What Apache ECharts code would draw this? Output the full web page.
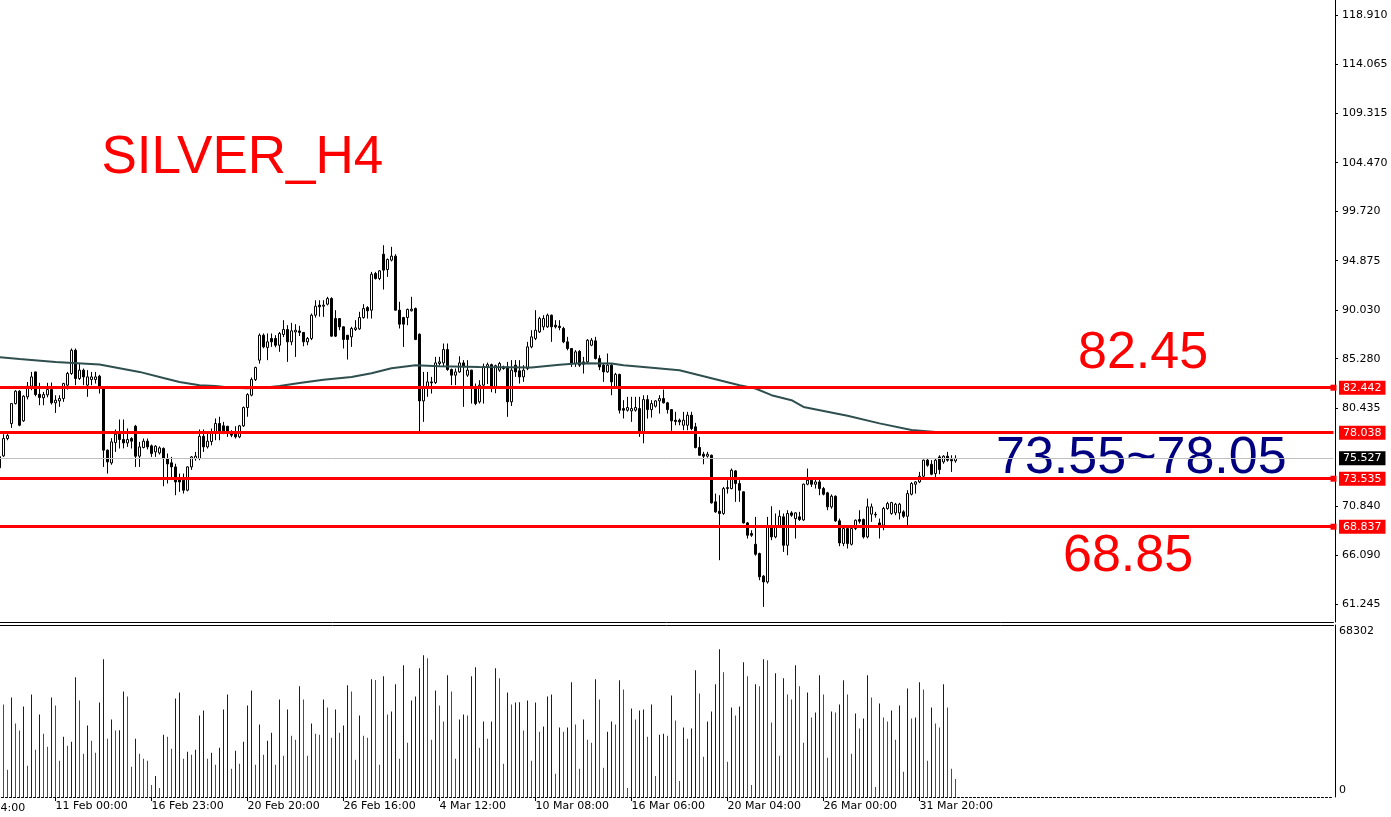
<!DOCTYPE html>
<html>
<head>
<meta charset="utf-8">
<title>SILVER_H4</title>
<script src="https://cdn.jsdelivr.net/npm/echarts@6/dist/echarts.min.js"></script>
<style>
html, body { margin: 0; padding: 0; background: #fff; }
#chart { width: 1391px; height: 817px; }
</style>
</head>
<body>
<div id="chart"></div>
<script>
// H4 bars, oldest first (bar 0 is cut by the left edge)
var opens = [
  74.60, 75.77, 77.47, 78.93, 80.89, 82.10, 79.20, 81.55, 82.59, 83.99,
  81.80, 81.45, 81.74, 82.26, 80.96, 81.15, 81.38, 82.69, 83.83, 86.11,
  83.34, 84.16, 82.69, 83.24, 83.24, 83.57, 82.36, 76.33, 75.08, 77.07,
  77.89, 77.37, 77.04, 77.47, 78.67, 75.74, 76.59, 77.21, 76.75, 76.16,
  76.06, 76.50, 75.51, 75.09, 74.69, 73.40, 73.39, 72.41, 74.69, 75.50,
  75.51, 77.69, 76.65, 77.17, 78.02, 78.94, 78.71, 78.67, 77.96, 77.89,
  77.63, 78.71, 80.50, 81.71, 83.24, 85.14, 87.58, 86.38, 87.26, 87.26,
  86.60, 87.65, 88.14, 86.93, 87.90, 88.00, 87.85, 86.93, 87.26, 89.54,
  90.52, 90.42, 90.62, 91.17, 89.21, 89.21, 88.40, 87.58, 87.42, 88.14,
  88.20, 89.31, 90.29, 90.03, 93.62, 93.13, 95.51, 94.01, 94.93, 95.32,
  90.03, 89.31, 89.31, 89.97, 90.19, 87.68, 81.15, 82.53, 83.01, 82.95,
  84.81, 84.87, 86.18, 84.22, 83.67, 83.99, 84.87, 83.67, 84.16, 82.53,
  81.06, 82.69, 84.50, 84.70, 82.50, 84.16, 84.48, 84.48, 81.06, 84.65,
  84.10, 83.50, 84.32, 86.44, 87.26, 87.91, 88.40, 88.40, 89.54, 88.56,
  88.46, 88.24, 86.93, 86.28, 84.81, 86.00, 84.97, 84.97, 86.60, 87.03,
  85.30, 84.65, 83.99, 84.65, 82.53, 83.75, 80.40, 80.24, 80.17, 80.24,
  80.40, 78.00, 81.28, 80.30, 80.63, 81.15, 81.38, 80.96, 80.30, 79.26,
  79.26, 78.77, 78.77, 79.75, 78.61, 76.59, 75.93, 75.74, 75.83, 71.27,
  70.35, 70.13, 72.57, 72.57, 74.30, 73.06, 72.25, 69.21, 68.17, 67.12,
  66.21, 64.00, 63.43, 68.82, 67.84, 68.82, 69.80, 67.02, 70.19, 69.63,
  69.80, 69.50, 73.00, 73.39, 72.99, 73.22, 72.57, 72.15, 70.78, 71.82,
  69.41, 67.20, 68.66, 67.12, 68.66, 69.54, 69.54, 67.84, 70.07, 70.05,
  69.21, 68.98, 70.62, 70.13, 70.19, 70.19, 70.29, 69.86, 72.02, 72.99,
  73.22, 73.78, 75.35, 74.95, 74.04, 75.67, 75.18, 75.74, 75.41, 75.28
];
var closes = [
  75.70, 77.47, 77.76, 80.89, 82.10, 78.77, 81.61, 82.59, 83.50, 81.77,
  81.48, 81.77, 82.26, 80.96, 81.22, 81.38, 82.85, 83.83, 86.11, 83.34,
  84.16, 83.50, 83.50, 83.50, 83.50, 82.46, 76.33, 75.18, 77.14, 77.89,
  77.37, 77.04, 77.37, 77.21, 75.74, 76.65, 77.21, 76.65, 76.00, 76.72,
  76.55, 75.50, 74.98, 74.69, 73.22, 73.22, 72.41, 74.69, 75.67, 75.74,
  77.69, 76.65, 77.21, 77.96, 78.94, 78.18, 78.22, 78.12, 77.80, 77.63,
  78.71, 80.50, 81.77, 83.24, 84.42, 87.58, 86.44, 86.93, 86.93, 86.60,
  87.75, 88.14, 86.93, 88.01, 88.07, 87.85, 86.93, 87.26, 89.54, 90.42,
  90.36, 90.52, 91.17, 87.49, 87.49, 88.40, 87.16, 87.16, 88.24, 88.30,
  89.31, 90.19, 89.97, 93.55, 93.13, 93.88, 93.95, 94.99, 95.32, 90.03,
  88.66, 88.66, 90.10, 90.13, 87.16, 81.15, 82.53, 83.01, 82.92, 84.87,
  84.97, 86.18, 84.22, 83.67, 83.99, 84.87, 84.48, 84.16, 82.36, 80.89,
  82.69, 84.50, 84.70, 82.50, 84.60, 84.81, 84.32, 81.06, 84.16, 83.99,
  83.50, 84.16, 86.44, 87.42, 88.07, 89.21, 89.21, 89.54, 88.40, 88.40,
  88.33, 86.93, 86.28, 84.81, 85.95, 84.65, 84.75, 87.09, 87.09, 85.30,
  84.48, 83.99, 84.65, 83.01, 83.75, 80.24, 80.24, 80.50, 80.40, 80.50,
  77.96, 81.28, 80.30, 80.89, 81.15, 81.38, 80.96, 80.30, 79.20, 79.13,
  79.10, 79.26, 79.75, 78.45, 76.59, 75.83, 75.74, 75.93, 71.17, 70.29,
  70.13, 72.57, 72.67, 74.37, 73.06, 72.41, 69.21, 68.00, 68.00, 66.15,
  63.93, 63.43, 68.82, 67.84, 68.82, 69.86, 67.02, 70.13, 69.96, 70.19,
  69.54, 73.00, 73.39, 72.99, 73.22, 72.57, 72.02, 70.78, 71.82, 69.41,
  67.25, 68.66, 67.19, 68.66, 69.47, 69.37, 67.84, 70.78, 70.78, 70.00,
  68.98, 70.62, 71.10, 71.20, 71.04, 71.04, 69.86, 72.08, 73.06, 73.22,
  73.78, 75.35, 74.85, 73.97, 75.35, 74.43, 75.74, 75.35, 75.28, 75.527
];
var lows = [
  74.40, 75.67, 77.30, 78.51, 80.80, 78.67, 79.10, 81.30, 82.20, 81.60,
  80.73, 80.73, 81.50, 80.80, 79.98, 80.57, 81.06, 82.26, 83.70, 82.69,
  83.20, 82.69, 81.55, 82.69, 82.85, 81.87, 74.69, 74.04, 74.90, 76.16,
  76.49, 76.50, 76.65, 76.49, 74.69, 74.69, 76.50, 76.40, 75.67, 75.67,
  75.90, 72.80, 73.06, 73.40, 71.92, 72.25, 72.08, 72.30, 74.40, 75.30,
  75.35, 76.16, 76.49, 76.80, 77.30, 77.30, 77.90, 77.63, 77.60, 77.47,
  77.50, 78.60, 79.60, 81.60, 83.10, 84.80, 86.30, 85.14, 86.44, 86.40,
  85.95, 87.40, 84.97, 86.60, 85.46, 87.50, 86.50, 86.60, 87.10, 89.30,
  89.40, 89.38, 90.50, 87.42, 87.40, 88.07, 86.28, 85.20, 86.44, 88.00,
  88.10, 89.20, 89.21, 89.21, 93.03, 92.97, 92.05, 93.29, 94.80, 90.00,
  88.24, 86.44, 88.56, 89.90, 87.10, 78.12, 79.10, 81.55, 81.87, 82.80,
  84.60, 84.48, 84.10, 82.69, 82.69, 83.90, 80.57, 83.50, 80.89, 80.73,
  80.90, 80.89, 82.80, 82.00, 81.90, 84.00, 84.20, 79.59, 80.65, 83.50,
  82.85, 83.01, 84.16, 86.30, 87.10, 87.80, 88.07, 88.30, 86.93, 88.24,
  88.07, 86.80, 86.10, 84.48, 84.48, 84.48, 83.83, 84.80, 86.50, 85.20,
  84.16, 83.01, 83.90, 81.71, 82.40, 79.92, 79.43, 80.10, 79.10, 80.10,
  77.63, 77.00, 79.42, 79.52, 80.50, 79.91, 80.90, 79.91, 78.22, 78.77,
  78.77, 78.28, 78.28, 78.28, 76.50, 75.80, 74.95, 75.60, 71.10, 70.20,
  65.56, 70.00, 72.08, 72.50, 71.27, 71.27, 69.15, 67.68, 67.84, 66.00,
  63.60, 60.99, 63.27, 67.52, 67.70, 68.70, 66.37, 66.05, 69.80, 67.68,
  69.40, 69.40, 72.90, 72.73, 72.57, 71.92, 71.90, 70.45, 70.60, 69.30,
  66.93, 66.93, 66.70, 67.00, 68.50, 69.15, 67.68, 67.70, 69.31, 69.73,
  67.68, 68.49, 70.50, 70.00, 69.96, 69.54, 69.70, 68.98, 71.90, 72.08,
  73.10, 73.70, 74.70, 73.88, 73.65, 73.97, 75.00, 75.20, 74.20, 75.10
];
var highs = [
  76.00, 77.89, 77.90, 80.95, 82.20, 82.20, 81.70, 83.00, 83.99, 84.00,
  82.92, 82.03, 82.92, 82.95, 81.70, 81.70, 82.92, 83.99, 86.28, 86.28,
  84.81, 84.32, 84.16, 83.99, 83.99, 83.70, 82.40, 76.40, 77.50, 78.35,
  79.33, 79.33, 78.45, 77.60, 78.80, 77.14, 77.47, 77.47, 76.88, 76.82,
  76.70, 76.60, 76.00, 75.67, 75.00, 74.04, 74.04, 74.75, 75.75, 76.16,
  78.35, 78.35, 77.96, 78.45, 79.43, 79.60, 79.10, 78.70, 78.28, 78.67,
  78.80, 80.60, 81.90, 83.44, 84.50, 87.75, 87.75, 87.75, 87.75, 87.58,
  87.90, 89.05, 88.56, 88.79, 88.66, 88.50, 87.90, 87.40, 89.70, 91.00,
  91.00, 91.01, 91.34, 91.30, 90.03, 89.25, 88.45, 87.60, 88.40, 89.05,
  89.87, 90.62, 90.42, 93.78, 93.78, 93.95, 96.39, 95.09, 96.23, 95.51,
  90.85, 89.38, 90.19, 91.34, 90.29, 87.75, 83.99, 83.99, 83.50, 85.46,
  85.46, 86.77, 86.77, 84.32, 84.32, 85.52, 85.14, 85.14, 84.20, 82.85,
  83.18, 84.80, 84.90, 84.80, 84.70, 84.97, 84.60, 84.97, 85.14, 85.14,
  85.14, 84.65, 86.93, 88.07, 90.03, 89.38, 89.54, 89.70, 89.60, 89.05,
  89.05, 88.40, 87.42, 86.30, 86.12, 86.12, 85.46, 87.20, 87.30, 87.42,
  85.62, 84.81, 85.79, 84.81, 83.90, 83.80, 81.22, 81.55, 81.55, 81.55,
  81.55, 81.70, 81.71, 81.22, 81.22, 81.71, 82.26, 81.06, 80.35, 80.08,
  79.42, 80.08, 80.08, 80.08, 79.00, 77.63, 76.16, 76.16, 75.90, 72.08,
  71.92, 72.73, 73.39, 74.53, 74.37, 73.39, 72.30, 69.30, 68.49, 69.80,
  66.30, 64.10, 69.80, 70.84, 70.13, 70.45, 70.13, 70.45, 70.35, 70.25,
  70.29, 73.06, 74.53, 73.65, 73.65, 73.55, 72.73, 72.25, 72.00, 71.90,
  69.64, 68.80, 68.80, 68.75, 69.54, 70.45, 69.64, 71.59, 71.10, 70.29,
  69.64, 70.78, 71.27, 71.27, 71.17, 71.17, 70.45, 72.41, 73.20, 73.30,
  74.20, 75.41, 75.51, 75.35, 75.51, 75.83, 75.83, 76.16, 75.83, 75.83
];
var volumes = [
  40000, 36744, 10784, 39540, 29155, 26360, 35945, 12381, 40738, 18771,
  32750, 25162, 19970, 39540, 36344, 14378, 23963, 20369, 21966, 47527,
  38341, 17174, 28357, 22366, 17573, 37543, 54716, 23165, 30753, 26360,
  26493, 41936, 39939, 11982, 23165, 17174, 15177, 14378, 4793, 8387,
  3595, 24762, 23963, 19171, 39140, 41537, 15177, 17973, 16774, 18771,
  32351, 34348, 15177, 17573, 12780, 19570, 34747, 40738, 11183, 18372,
  13180, 21966, 36344, 42335, 12780, 28756, 16774, 22366, 25561, 12780,
  38741, 16375, 34747, 24363, 22765, 43933, 38741, 16375, 29155, 25162,
  24762, 38741, 35546, 23564, 34747, 25561, 28357, 44332, 41936, 14777,
  32351, 24363, 23564, 46729, 46500, 12780, 47927, 32750, 33948, 44732,
  15177, 52320, 21567, 38341, 39939, 51122, 56314, 55116, 22765, 42335,
  36344, 29954, 48326, 41936, 15177, 30753, 32750, 32351, 47927, 51521,
  19570, 29954, 23165, 29954, 51122, 47128, 13180, 41537, 36744, 37543,
  37600, 26360, 38341, 14378, 37543, 25960, 27957, 39939, 40738, 9186,
  27558, 25960, 27558, 45530, 28756, 11183, 30753, 22765, 21567, 46729,
  38741, 11582, 25960, 29954, 28756, 46329, 42735, 3595, 35146, 30753,
  34348, 34747, 23963, 36744, 8387, 24762, 25162, 24363, 40338, 30354,
  6390, 27558, 23165, 27158, 50323, 41137, 15976, 29954, 33948, 44732,
  58710, 49524, 13979, 35546, 32351, 35945, 53518, 47927, 4793, 44732,
  43933, 54716, 54317, 29555, 49125, 16375, 47128, 40738, 38741, 52320,
  43933, 21567, 41537, 31552, 33549, 48326, 40738, 15576, 33948, 33549,
  36744, 46329, 40738, 17174, 33149, 27158, 31152, 48326, 39540, 3994,
  37143, 31552, 29954, 34348, 22765, 36344, 9985, 43134, 31152, 31552,
  45530, 42735, 14378, 35546, 29155, 27558, 44732, 35546, 11183, 7189
];
// moving average, read at points along the line: [bar index, price]
var maPoints = [
  [0, 85.43], [5, 85.25], [14, 84.97], [25, 84.71], [35, 83.99], [41, 83.40],
  [45, 83.01], [50, 82.69], [54, 82.62], [58, 82.45], [62, 82.40], [66, 82.45],
  [70, 82.62], [75, 82.91], [81, 83.23], [88, 83.50], [93, 83.86], [98, 84.35],
  [104, 84.65], [110, 84.55], [120, 84.48], [133, 84.42], [140, 84.68], [145, 84.84],
  [153, 84.81], [156, 84.65], [161, 84.48], [170, 84.16], [175, 83.67], [180, 83.18],
  [185, 82.69], [189, 82.36], [193, 81.71], [198, 81.22], [201, 80.56], [212, 79.70],
  [220, 78.95], [228, 78.30], [234, 78.10], [239, 78.05]
];
var timeLabels = [
  [14, '11 Feb 00:00'], [38, '16 Feb 23:00'], [62, '20 Feb 20:00'], [86, '26 Feb 16:00'],
  [110, '4 Mar 12:00'], [134, '10 Mar 08:00'], [158, '16 Mar 06:00'], [182, '20 Mar 04:00'],
  [206, '26 Mar 00:00'], [230, '31 Mar 20:00']
];
var priceTicks = [118.910, 114.065, 109.315, 104.470, 99.720, 94.875, 90.030, 85.280, 80.435, 70.840, 66.090, 61.245];
var boxedLevels = [82.442, 73.535, 68.837];
var plainLevel = 78.038;
var lastPrice = 75.527;
var volMax = 68302;
var emptySlots = 94;

var FONT = 'DejaVu Sans';

var myChart = echarts.init(document.getElementById('chart'));

var total = opens.length + emptySlots;
var cats = [];
for (var i = 0; i < total; i++) cats.push('');
timeLabels.forEach(function (t) { cats[t[0]] = t[1]; });
function hasLabel(idx) { return cats[idx] !== ''; }

var candleData = opens.map(function (o, i) {
  return [o, closes[i], lows[i], highs[i]];
});
var volData = volumes.map(function (v, i) {
  var up = i > 0 && v > volumes[i - 1];
  return { value: v, itemStyle: { color: up ? '#0000ff' : '#ff0000' } };
});

function tagLabel(bg) {
  return {
    show: true,
    position: 'end',
    distance: 5.5,
    formatter: function (p) { return Number(p.value).toFixed(3); },
    color: '#fff',
    backgroundColor: bg,
    padding: [1, 4, 0, 4],
    fontFamily: FONT,
    fontSize: 11,
    lineHeight: 13
  };
}

myChart.setOption({
  animation: false,
  backgroundColor: '#fff',
  grid: [
    { left: -2.5, width: 1336, top: 0, height: 622, outerBoundsMode: 'none' },
    { left: -2.5, width: 1336, top: 625, height: 172, outerBoundsMode: 'none' }
  ],
  xAxis: [
    {
      type: 'category', gridIndex: 0, data: cats, boundaryGap: true,
      axisLine: { lineStyle: { color: '#000', width: 1 } },
      axisTick: { show: false }, axisLabel: { show: false }, splitLine: { show: false }
    },
    {
      type: 'category', gridIndex: 1, data: cats, boundaryGap: true,
      axisLine: { lineStyle: { color: '#000', width: 1, type: [2, 2] } },
      axisTick: { show: true, alignWithLabel: true, interval: hasLabel, length: 4, lineStyle: { color: '#000' } },
      axisLabel: {
        interval: hasLabel, align: 'left', margin: 4,
        color: '#000', fontFamily: FONT, fontSize: 11
      },
      splitLine: { show: false }
    },
    {
      type: 'category', gridIndex: 1, data: cats, position: 'top',
      axisLine: { lineStyle: { color: '#000', width: 1 } },
      axisTick: { show: false }, axisLabel: { show: false }, splitLine: { show: false }
    }
  ],
  yAxis: [
    {
      type: 'value', gridIndex: 0, position: 'right', offset: 1.5,
      min: 59.51, max: 120.39, scale: true,
      axisLine: { show: true, lineStyle: { color: '#000', width: 1 } },
      axisTick: { show: true, customValues: priceTicks, length: 3, lineStyle: { color: '#000' } },
      axisLabel: {
        customValues: priceTicks, margin: 7, color: '#000', fontFamily: FONT, fontSize: 11,
        formatter: function (v) { return v.toFixed(3); }
      },
      splitLine: { show: false }
    },
    {
      type: 'value', gridIndex: 1, position: 'right', offset: 1.5,
      min: 0, max: volMax,
      axisLine: { show: true, lineStyle: { color: '#000', width: 1 } },
      axisTick: { show: false },
      axisLabel: {
        customValues: [0, volMax], margin: 4, color: '#000', fontFamily: FONT, fontSize: 11,
        formatter: function (v) { return v === 0 ? '{b|0}' : '{t|' + v + '}'; },
        rich: {
          t: { padding: [12, 0, 0, 0], fontFamily: FONT, fontSize: 11, color: '#000' },
          b: { padding: [0, 0, 13, 0], fontFamily: FONT, fontSize: 11, color: '#000' }
        }
      },
      splitLine: { show: false }
    }
  ],
  series: [
    {
      name: 'SILVER', type: 'candlestick', xAxisIndex: 0, yAxisIndex: 0,
      data: candleData, barWidth: 3,
      itemStyle: { color: '#fff', color0: '#000', borderColor: '#000', borderColor0: '#000', borderWidth: 1 },
      markLine: {
        silent: true, animation: false, precision: 3,
        symbol: ['none', 'rect'], symbolSize: 6,
        lineStyle: { color: '#ff0000', width: 3, type: 'solid' },
        label: tagLabel('#ff0000'),
        data: boxedLevels.map(function (v) { return { yAxis: v }; })
      }
    },
    {
      name: 'MA', type: 'line', xAxisIndex: 0, yAxisIndex: 0,
      data: maPoints, symbol: 'none', showSymbol: false,
      lineStyle: { color: '#2f4f4f', width: 2 },
      markLine: {
        silent: true, animation: false, symbol: 'none', precision: 3,
        data: [
          { yAxis: plainLevel, lineStyle: { color: '#ff0000', width: 3, type: 'solid' }, label: tagLabel('#ff0000') },
          { yAxis: lastPrice, lineStyle: { color: '#c0c0c0', width: 1, type: 'solid' }, label: tagLabel('#000') }
        ]
      }
    },
    {
      name: 'Volume', type: 'bar', xAxisIndex: 1, yAxisIndex: 1,
      data: volData, barWidth: 1
    }
  ],
  graphic: [
    { type: 'text', x: 101.5, y: 158, style: { text: 'SILVER_H4', fill: '#ff0000', font: '53px "Liberation Sans"', align: 'left', verticalAlign: 'middle' } },
    { type: 'text', x: 1078, y: 354, style: { text: '82.45', fill: '#ff0000', font: '52px "Liberation Sans"', align: 'left', verticalAlign: 'middle' } },
    { type: 'text', x: 996, y: 458.5, style: { text: '73.55~78.05', fill: '#000080', font: '52px "Liberation Sans"', align: 'left', verticalAlign: 'middle' } },
    { type: 'text', x: 1063, y: 556.5, style: { text: '68.85', fill: '#ff0000', font: '52px "Liberation Sans"', align: 'left', verticalAlign: 'middle' } },
    { type: 'text', x: -40, y: 808, style: { text: '5 Feb 04:00', fill: '#000', font: '11px "DejaVu Sans"', align: 'left', verticalAlign: 'middle' } }
  ]
});

window.addEventListener('resize', function () {
  myChart.resize();
});
</script>
</body>
</html>
